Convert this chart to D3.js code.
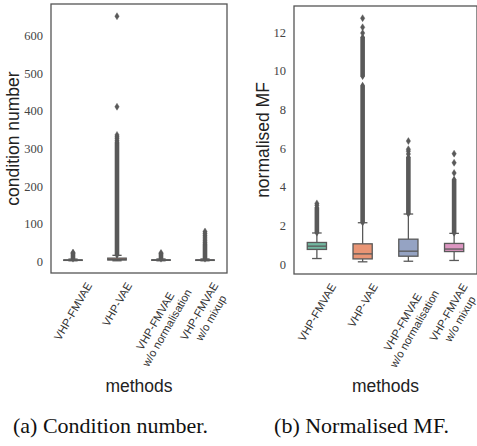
<!DOCTYPE html>
<html>
<head>
<meta charset="utf-8">
<script src="https://cdn.jsdelivr.net/npm/d3@7"></script>
<style>
  html, body { margin: 0; padding: 0; background: #fff; }
  svg { display: block; }
</style>
</head>
<body>
<svg id="fig" width="477" height="446"></svg>
<script>
// Methods compared in both panels (line breaks split the tick labels)
const methods = ["VHP-FMVAE", "VHP-VAE", "VHP-FMVAE\nw/o normalisation", "VHP-FMVAE\nw/o mixup"];

// Box colours (Set2, desaturated as seaborn draws boxes)
const boxColors = ["#71b7a0", "#e99575", "#95a3c3", "#dc96c1"];

// (a) condition number: five-number summaries per method
const condWhisLo = [1.0, 1.0, 1.0, 1.0];
const condQ1     = [2.0, 3.0, 2.2, 2.0];
const condMed    = [2.6, 4.5, 2.8, 2.7];
const condQ3     = [3.4, 8.0, 3.6, 3.5];
const condWhisHi = [5.5, 15.5, 5.8, 5.8];
// stretches where outliers overlap into a solid column [from, to]
const condDense  = [[[5.5, 17]], [[15.5, 318]], [[5.8, 16]], [[5.8, 47]]];
// isolated outliers
const condFliers = [[19, 21, 23], [322, 327, 331, 336, 411, 652], [18, 20, 22], [50, 54, 59, 64, 69, 74, 79]];
const condTicks  = [0, 100, 200, 300, 400, 500, 600];

// (b) normalised MF
const mfWhisLo = [0.30, 0.13, 0.16, 0.20];
const mfQ1     = [0.77, 0.28, 0.42, 0.66];
const mfMed    = [0.94, 0.54, 0.68, 0.79];
const mfQ3     = [1.13, 1.06, 1.30, 1.08];
const mfWhisHi = [1.62, 2.15, 2.60, 1.60];
const mfDense  = [[[1.62, 2.95]], [[2.15, 9.25], [9.7, 11.75]], [[2.6, 5.55]], [[1.6, 4.4]]];
const mfFliers = [[3.05, 3.15], [11.95, 12.25, 12.72], [5.7, 5.85, 5.95, 6.37], [4.72, 5.25, 5.72]];
const mfTicks  = [0, 2, 4, 6, 8, 10, 12];

const svg = d3.select("#fig");
const LINE = "#595959";
const SANS = "'Liberation Sans', Arial, sans-serif";
const SERIF = "'Liberation Serif', 'DejaVu Serif', serif";

function drawPanel(opt) {
  const { left, right, top, bottom, wl, q1, med, q3, wh, dense, fliers, ticks, ylabel, ylabelX } = opt;
  const g = svg.append("g");

  const x = d3.scaleBand().domain(methods).range([left, right]).padding(0);

  // y extent with matplotlib-style 5% margins around the data
  const all = [];
  methods.forEach((m, i) => {
    all.push(wl[i], wh[i]);
    dense[i].forEach(r => all.push(r[0], r[1]));
    fliers[i].forEach(v => all.push(v));
  });
  const lo = d3.min(all), hi = d3.max(all), pad = (hi - lo) * 0.05;
  const y = d3.scaleLinear().domain([lo - pad, hi + pad]).range([bottom, top]);

  const bw = x.bandwidth() * 0.42;
  const dw = 4.4, dh = 7;
  const colW = 4.6;
  const diamond = `M0,${-dh/2}L${dw/2},0L0,${dh/2}L${-dw/2},0Z`;

  methods.forEach((m, i) => {
    const cx = x(m) + x.bandwidth() / 2;
    const bg = g.append("g");

    // whiskers and caps
    bg.append("line").attr("x1", cx).attr("x2", cx).attr("y1", y(q3[i])).attr("y2", y(wh[i]))
      .attr("stroke", LINE).attr("stroke-width", 1.3);
    bg.append("line").attr("x1", cx).attr("x2", cx).attr("y1", y(q1[i])).attr("y2", y(wl[i]))
      .attr("stroke", LINE).attr("stroke-width", 1.3);
    [wl[i], wh[i]].forEach(v => {
      bg.append("line").attr("x1", cx - bw / 4).attr("x2", cx + bw / 4).attr("y1", y(v)).attr("y2", y(v))
        .attr("stroke", LINE).attr("stroke-width", 1.3);
    });

    // outlier columns
    dense[i].forEach(r => {
      bg.append("rect").attr("x", cx - colW / 2).attr("width", colW)
        .attr("y", y(r[1])).attr("height", Math.max(0, y(r[0]) - y(r[1])))
        .attr("fill", LINE);
      [r[0], r[1]].forEach(v => {
        bg.append("path").attr("d", diamond).attr("transform", `translate(${cx},${y(v)})`)
          .attr("fill", LINE);
      });
    });
    // isolated outliers
    fliers[i].forEach(v => {
      bg.append("path").attr("d", diamond).attr("transform", `translate(${cx},${y(v)})`)
        .attr("fill", LINE).attr("stroke", LINE).attr("stroke-width", 0.4);
    });

    // box and median
    bg.append("rect").attr("x", cx - bw / 2).attr("width", bw)
      .attr("y", y(q3[i])).attr("height", Math.max(0.01, y(q1[i]) - y(q3[i])))
      .attr("fill", boxColors[i]).attr("stroke", LINE).attr("stroke-width", 1.3);
    bg.append("line").attr("x1", cx - bw / 2).attr("x2", cx + bw / 2).attr("y1", y(med[i])).attr("y2", y(med[i]))
      .attr("stroke", LINE).attr("stroke-width", 1.3);
  });

  // frame
  g.append("rect").attr("x", left).attr("y", top).attr("width", right - left).attr("height", bottom - top)
    .attr("fill", "none").attr("stroke", "#555").attr("stroke-width", 1.3);

  // y tick labels
  const yAxis = d3.axisLeft(y).tickValues(ticks).tickSize(0).tickPadding(8);
  const ya = g.append("g").attr("transform", `translate(${left},0)`).call(yAxis);
  ya.select(".domain").remove();
  ya.selectAll("text").attr("font-family", SERIF).attr("font-size", 12.5).attr("fill", "#444");

  // rotated method labels, bounding box centred under each box
  const fs = 11.2, lh = fs * 1.2, ang = 60 * Math.PI / 180;
  methods.forEach(m => {
    const cx = x(m) + x.bandwidth() / 2;
    const lines = m.split("\n");
    const tg = g.append("g");
    const n = lines.length;
    let W = 0;
    lines.forEach((t, k) => {
      const te = tg.append("text").text(t)
        .attr("x", 0).attr("y", (k - (n - 1) / 2) * lh)
        .attr("text-anchor", "middle").attr("dominant-baseline", "central")
        .attr("font-family", SANS).attr("font-size", fs).attr("fill", "#333");
      W = Math.max(W, te.node().getComputedTextLength());
    });
    const H = n * lh;
    const hh = (W / 2) * Math.sin(ang) + (H / 2) * Math.cos(ang);
    tg.attr("transform", `translate(${cx},${bottom + 7 + hh}) rotate(-60)`);
  });

  // axis titles
  g.append("text").text(ylabel)
    .attr("transform", `translate(${ylabelX},${(top + bottom) / 2}) rotate(-90)`)
    .attr("text-anchor", "middle").attr("dominant-baseline", "central")
    .attr("font-family", SANS).attr("font-size", 17.5).attr("fill", "#222");
  g.append("text").text("methods")
    .attr("x", (left + right) / 2).attr("y", 392)
    .attr("text-anchor", "middle")
    .attr("font-family", SANS).attr("font-size", 17.5).attr("fill", "#222");
}

drawPanel({ left: 51, right: 227, top: 4, bottom: 273,
  wl: condWhisLo, q1: condQ1, med: condMed, q3: condQ3, wh: condWhisHi,
  dense: condDense, fliers: condFliers, ticks: condTicks,
  ylabel: "condition number", ylabelX: 13 });

drawPanel({ left: 294, right: 477, top: 6, bottom: 274,
  wl: mfWhisLo, q1: mfQ1, med: mfMed, q3: mfQ3, wh: mfWhisHi,
  dense: mfDense, fliers: mfFliers, ticks: mfTicks,
  ylabel: "normalised MF", ylabelX: 263 });

// sub-figure captions
const caps = [["(a) Condition number.", 110.5], ["(b) Normalised MF.", 361.5]];
caps.forEach(([t, cx]) => {
  svg.append("text").text(t).attr("x", cx).attr("y", 433)
    .attr("text-anchor", "middle")
    .attr("font-family", "'Liberation Serif', 'Times New Roman', serif")
    .attr("font-size", 22).attr("fill", "#111");
});
</script>
</body>
</html>
